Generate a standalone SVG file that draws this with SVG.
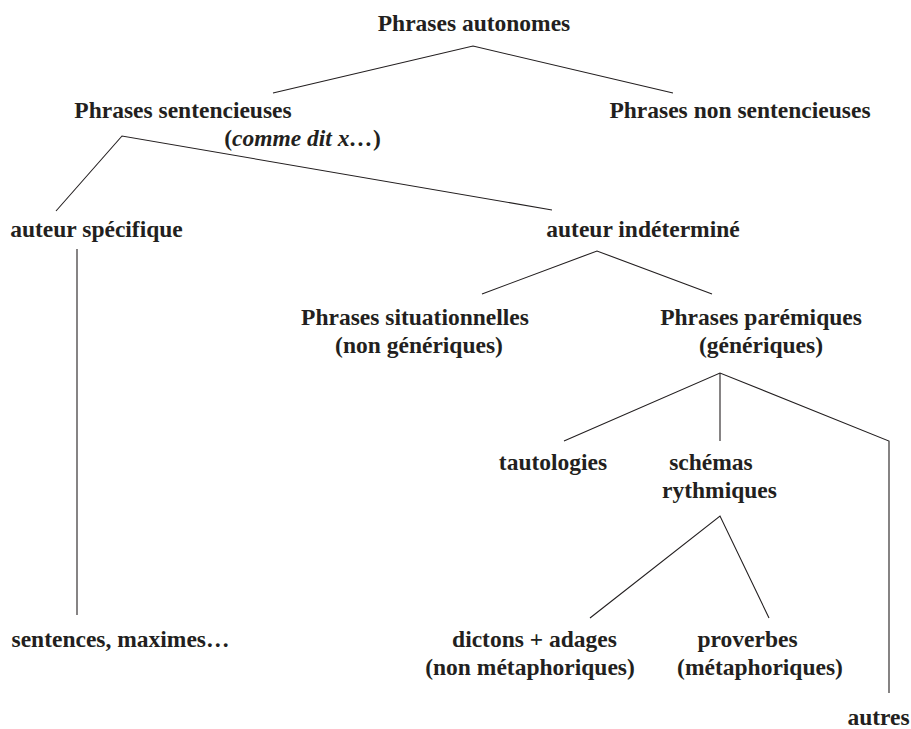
<svg xmlns="http://www.w3.org/2000/svg" width="911" height="729" viewBox="0 0 911 729">
<style>
text{font-family:"Liberation Serif","Times New Roman",serif;font-weight:bold;font-size:23.5px;fill:#231f20;text-anchor:middle}
.it{font-style:italic}
#connectors line,#connectors polyline{stroke:#231f20;stroke-width:1.1;fill:none}
</style>
<rect width="911" height="729" fill="#ffffff"/>
<g id="connectors">
<polyline points="273,93 473,46 673,93"/>
<polyline points="56,211 122,136 552,210"/>
<line x1="77" y1="249" x2="77" y2="615"/>
<polyline points="482,294 597,251 712,294"/>
<polyline points="564,441 720,373 889,441 889,693"/>
<line x1="720" y1="373" x2="720" y2="441"/>
<polyline points="590,618 720,516 769,618"/>
</g>
<g id="n-autonomes"><text x="474" y="31">Phrases autonomes</text></g>
<g id="n-sentencieuses"><text x="183" y="118">Phrases sentencieuses</text><text x="302.5" y="146">(<tspan class="it">comme dit x…</tspan>)</text></g>
<g id="n-non-sentencieuses"><text x="740" y="118">Phrases non sentencieuses</text></g>
<g id="n-auteur-specifique"><text x="96.5" y="237">auteur spécifique</text></g>
<g id="n-auteur-indetermine"><text x="643" y="237">auteur indéterminé</text></g>
<g id="n-situationnelles"><text x="415" y="325">Phrases situationnelles</text><text x="419" y="353">(non génériques)</text></g>
<g id="n-paremiques"><text x="761" y="325">Phrases parémiques</text><text x="761" y="353">(génériques)</text></g>
<g id="n-tautologies"><text x="553" y="470">tautologies</text></g>
<g id="n-schemas"><text x="711" y="470">schémas</text><text x="719.5" y="498">rythmiques</text></g>
<g id="n-sentences"><text x="120.5" y="647">sentences, maximes…</text></g>
<g id="n-dictons"><text x="534.5" y="647">dictons + adages</text><text x="530" y="675">(non métaphoriques)</text></g>
<g id="n-proverbes"><text x="747.5" y="647">proverbes</text><text x="760" y="675">(métaphoriques)</text></g>
<g id="n-autres"><text x="878.5" y="725">autres</text></g>
</svg>
